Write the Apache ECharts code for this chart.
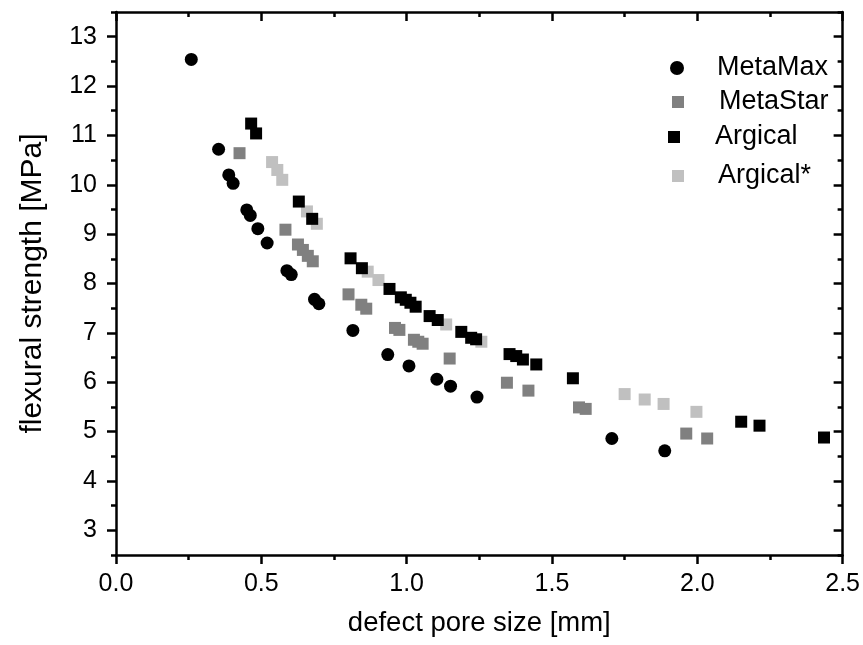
<!DOCTYPE html>
<html>
<head>
<meta charset="utf-8">
<script src="https://cdn.jsdelivr.net/npm/echarts@6/dist/echarts.min.js"></script>
<style>html,body{margin:0;padding:0;background:#fff}#c{width:863px;height:645px}</style>
</head>
<body>
<div id="c"></div>
<script>
var xTicks = [0, 0.5, 1.0, 1.5, 2.0, 2.5];
var yTicks = [3, 4, 5, 6, 7, 8, 9, 10, 11, 12, 13];
var yHalfTicks = [2.5, 3.5, 4.5, 5.5, 6.5, 7.5, 8.5, 9.5, 10.5, 11.5, 12.5, 13.5];
var seriesNames = ['MetaMax', 'MetaStar', 'Argical', 'Argical*'];

var metaMaxX = [0.259,0.353,0.388,0.403,0.450,0.462,0.488,0.520,0.588,0.603,0.683,0.698,0.815,0.935,1.008,1.104,1.151,1.242,1.706,1.888];
var metaMaxY = [12.54,10.72,10.20,10.03,9.49,9.38,9.11,8.82,8.26,8.18,7.68,7.59,7.05,6.56,6.33,6.06,5.92,5.70,4.86,4.61];

var metaStarX = [0.425,0.583,0.626,0.643,0.660,0.677,0.800,0.844,0.861,0.960,0.975,1.025,1.040,1.055,1.148,1.345,1.419,1.593,1.616,1.962,2.034];
var metaStarY = [10.64,9.09,8.79,8.68,8.56,8.45,7.78,7.57,7.49,7.10,7.06,6.86,6.82,6.78,6.48,5.99,5.83,5.49,5.46,4.96,4.86];

var argicalX = [0.465,0.482,0.629,0.675,0.807,0.846,0.941,0.980,0.997,1.013,1.031,1.079,1.107,1.188,1.222,1.239,1.354,1.377,1.400,1.446,1.572,2.151,2.214,2.436];
var argicalY = [11.24,11.04,9.66,9.31,8.51,8.31,7.89,7.72,7.67,7.61,7.53,7.34,7.26,7.02,6.90,6.87,6.57,6.53,6.46,6.36,6.08,5.20,5.12,4.88];

var argicalStarX = [0.537,0.555,0.572,0.657,0.691,0.866,0.903,1.136,1.257,1.750,1.819,1.884,1.997];
var argicalStarY = [10.46,10.30,10.10,9.46,9.21,8.24,8.07,7.17,6.82,5.76,5.65,5.56,5.40];

function pairs(xs, ys) { return xs.map(function (x, i) { return [x, ys[i]]; }); }

var FONT = "'Liberation Sans', Arial, sans-serif";
var LINE = { color: '#000', width: 2.5 };

var chart = echarts.init(document.getElementById('c'), null, { renderer: 'canvas' });

function legendBox(name, icon, size, left, top, pad) {
  return {
    show: true, orient: 'vertical', left: left, top: top, padding: 0,
    itemWidth: size, itemHeight: size,
    data: [{ name: name, icon: icon }],
    textStyle: { fontFamily: FONT, fontSize: 27, color: '#000', padding: [0, 0, 0, pad] },
    selectedMode: false
  };
}

var option = {
  backgroundColor: '#fff',
  animation: false,
  grid: { left: 116, right: 20, top: 12, bottom: 90, containLabel: false },
  legend: [
    legendBox(seriesNames[0], 'circle', 14, 670, 54.5, 28),
    legendBox(seriesNames[1], 'rect', 12, 672, 88.5, 30),
    legendBox(seriesNames[2], 'rect', 12, 668, 123.5, 30),
    legendBox(seriesNames[3], 'rect', 12, 672, 162.5, 29)
  ],
  xAxis: [
    {
      type: 'value', position: 'bottom', min: 0, max: 2.5, interval: 0.5,
      name: 'defect pore size [mm]', nameLocation: 'middle', nameGap: 54,
      nameTextStyle: { fontFamily: FONT, fontSize: 27.5, color: '#000' },
      axisLine: { show: true, lineStyle: LINE },
      axisTick: { show: true, inside: false, length: 9, lineStyle: LINE },
      minorTick: { show: true, splitNumber: 2, length: 5, lineStyle: LINE },
      axisLabel: { show: true, margin: 17, fontFamily: FONT, fontSize: 25, color: '#000',
        customValues: xTicks,
        formatter: function (v) { return v.toFixed(1); } },
      splitLine: { show: false }
    },
    {
      type: 'value', position: 'top', min: 0, max: 2.5, interval: 0.5,
      axisLine: { show: true, lineStyle: LINE },
      axisTick: { show: true, inside: true, length: 9, lineStyle: LINE },
      minorTick: { show: true, splitNumber: 2, length: 5, lineStyle: LINE },
      axisLabel: { show: false },
      splitLine: { show: false }
    }
  ],
  yAxis: [
    {
      type: 'value', position: 'left', min: 2.5, max: 13.5, interval: 0.5,
      name: 'flexural strength [MPa]', nameLocation: 'middle', nameGap: 68,
      nameTextStyle: { fontFamily: FONT, fontSize: 30, color: '#000' },
      axisLine: { show: true, lineStyle: LINE },
      axisTick: { show: true, inside: false, length: 9, lineStyle: LINE, customValues: yTicks },
      axisLabel: { show: true, margin: 19, fontFamily: FONT, fontSize: 25, color: '#000', customValues: yTicks },
      splitLine: { show: false }
    },
    {
      type: 'value', position: 'left', min: 2.5, max: 13.5, interval: 0.5,
      axisLine: { show: false },
      axisTick: { show: true, inside: false, length: 5, lineStyle: LINE, customValues: yHalfTicks },
      axisLabel: { show: false },
      splitLine: { show: false }
    },
    {
      type: 'value', position: 'right', min: 2.5, max: 13.5, interval: 0.5,
      axisLine: { show: true, lineStyle: LINE },
      axisTick: { show: true, inside: true, length: 9, lineStyle: LINE, customValues: yTicks },
      axisLabel: { show: false },
      splitLine: { show: false }
    },
    {
      type: 'value', position: 'right', min: 2.5, max: 13.5, interval: 0.5,
      axisLine: { show: false },
      axisTick: { show: true, inside: true, length: 5, lineStyle: LINE, customValues: yHalfTicks },
      axisLabel: { show: false },
      splitLine: { show: false }
    }
  ],
  series: [
    { name: seriesNames[3], type: 'scatter', symbol: 'rect', symbolSize: 12,
      itemStyle: { color: '#c0c0c0', opacity: 1 }, data: pairs(argicalStarX, argicalStarY) },
    { name: seriesNames[1], type: 'scatter', symbol: 'rect', symbolSize: 12,
      itemStyle: { color: '#808080', opacity: 1 }, data: pairs(metaStarX, metaStarY) },
    { name: seriesNames[0], type: 'scatter', symbol: 'circle', symbolSize: 13,
      itemStyle: { color: '#000', opacity: 1 }, data: pairs(metaMaxX, metaMaxY) },
    { name: seriesNames[2], type: 'scatter', symbol: 'rect', symbolSize: 12,
      itemStyle: { color: '#000', opacity: 1 }, data: pairs(argicalX, argicalY) }
  ]
};
chart.setOption(option);
</script>
</body>
</html>
